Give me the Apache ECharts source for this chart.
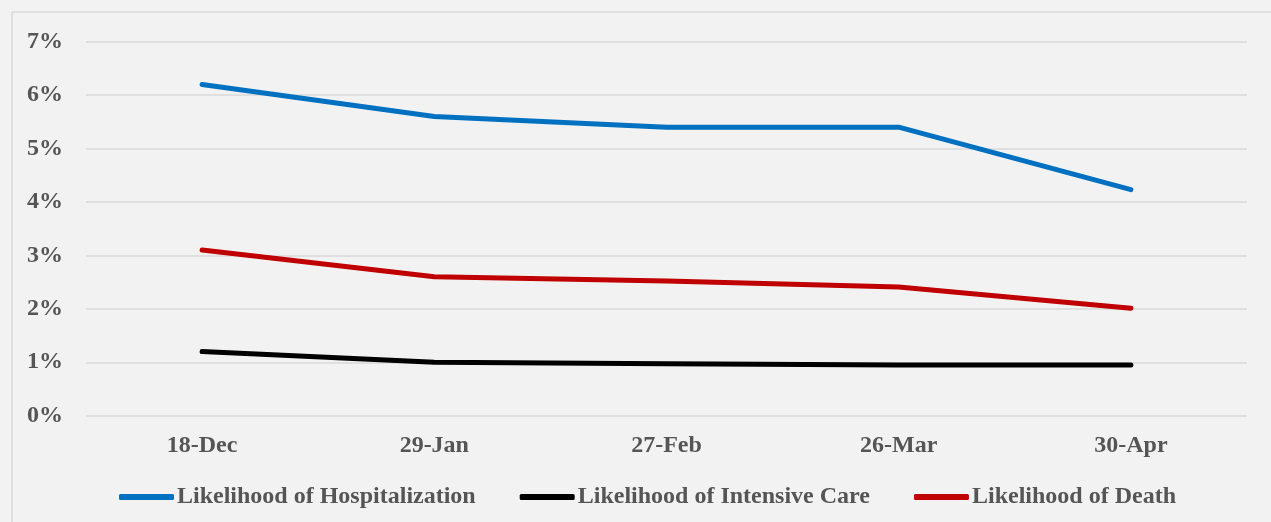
<!DOCTYPE html>
<html>
<head>
<meta charset="utf-8">
<script src="https://cdn.jsdelivr.net/npm/echarts@6/dist/echarts.min.js"></script>
<style>html,body{margin:0;padding:0;background:#f2f2f2;}#c{width:1271px;height:522px;}</style>
</head>
<body>
<div id="c"></div>
<script>
const categories = ['18-Dec', '29-Jan', '27-Feb', '26-Mar', '30-Apr'];
const hospitalization = [6.2, 5.6, 5.4, 5.4, 4.23];
const intensiveCare = [1.2, 1.0, 0.97, 0.95, 0.95];
const death = [3.1, 2.6, 2.52, 2.41, 2.01];
const seriesNames = ['Likelihood of Hospitalization', 'Likelihood of Intensive Care', 'Likelihood of Death'];
const seriesColors = ['#0070c0', '#000000', '#c00000'];

const font = '"Liberation Serif", "Times New Roman", serif';
const chart = echarts.init(document.getElementById('c'));
const mk = (name, data, color) => ({
  name, type: 'line', data, showSymbol: false, symbol: 'none',
  lineStyle: { color, width: 5, cap: 'round', join: 'round' },
  itemStyle: { color },
  emphasis: { disabled: true }, animation: false
});
chart.setOption({
  backgroundColor: '#f2f2f2',
  animation: false,
  graphic: [
    { type: 'line', shape: { x1: 12, y1: 12, x2: 1271, y2: 12 }, style: { stroke: '#d9d9d9', lineWidth: 1.5 }, silent: true },
    { type: 'line', shape: { x1: 12, y1: 12, x2: 12, y2: 522 }, style: { stroke: '#d9d9d9', lineWidth: 1.5 }, silent: true }
  ],
  grid: { left: 86, right: 24, top: 41.7, bottom: 106.3, containLabel: false },
  legend: {
    left: 114, top: 480,
    itemWidth: 55, itemHeight: 6, itemGap: 44,
    icon: 'roundRect',
    data: seriesNames,
    textStyle: { fontFamily: font, fontWeight: 'bold', fontSize: 24, color: '#555555', padding: [0, 0, 0, -2] }
  },
  xAxis: {
    type: 'category', data: categories, boundaryGap: true,
    axisLine: { show: false }, axisTick: { show: false },
    axisLabel: { margin: 18, fontFamily: font, fontWeight: 'bold', fontSize: 24, color: '#555555' }
  },
  yAxis: {
    type: 'value', min: 0, max: 7, interval: 1,
    axisLine: { show: false }, axisTick: { show: false },
    splitLine: { lineStyle: { color: '#d9d9d9', width: 1.5 } },
    axisLabel: { margin: 23, fontFamily: font, fontWeight: 'bold', fontSize: 24, color: '#555555', formatter: v => v + '%' }
  },
  series: [
    mk(seriesNames[0], hospitalization, seriesColors[0]),
    mk(seriesNames[1], intensiveCare, seriesColors[1]),
    mk(seriesNames[2], death, seriesColors[2])
  ]
});
</script>
</body>
</html>
